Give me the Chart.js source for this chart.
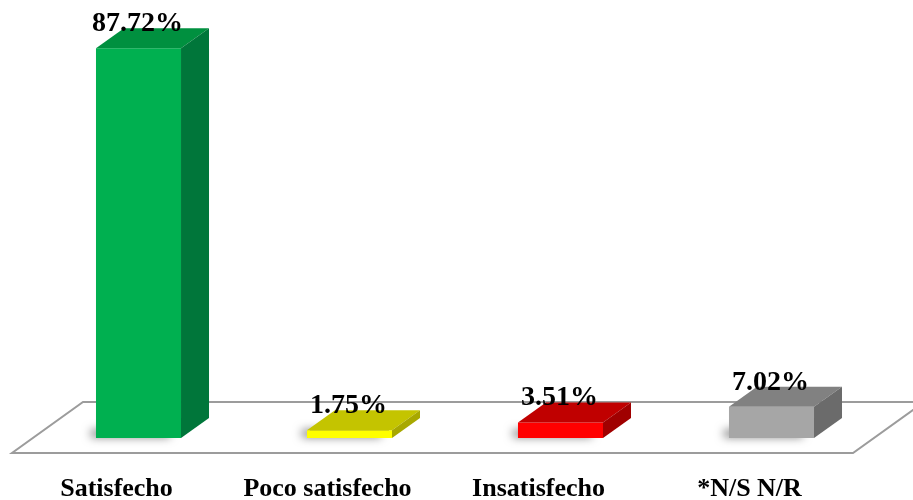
<!DOCTYPE html>
<html>
<head>
<meta charset="utf-8">
<script src="https://cdn.jsdelivr.net/npm/chart.js@4.4.0/dist/chart.umd.min.js"></script>
<style>
  html, body { margin: 0; padding: 0; background: #fff; }
  #wrap { width: 913px; height: 500px; }
</style>
</head>
<body>
<div id="wrap"><canvas id="chart" width="913" height="500"></canvas></div>
<script>
// datos de la encuesta
const categories = ['Satisfecho', 'Poco satisfecho', 'Insatisfecho', '*N/S N/R'];
const values = [87.72, 1.75, 3.51, 7.02];

const frontColors = ['#00B050', '#FFFF00', '#FF0000', '#A6A6A6'];
const topColors = ['#00903F', '#C4C400', '#C00000', '#818181'];
const sideColors = ['#00763A', '#A8A800', '#A00000', '#6B6B6B'];

// profundidad del efecto 3D
const DEPTH_X = 28;
const DEPTH_Y = -20;

const floorPlugin = {
    id: 'floor3d',
    beforeDatasetsDraw(chart) {
        const { ctx, chartArea } = chart;
        const base = chartArea.bottom;
        ctx.save();
        // piso
        ctx.beginPath();
        ctx.moveTo(chartArea.left - 21, base + 15);
        ctx.lineTo(chartArea.right - 24, base + 15);
        ctx.lineTo(chartArea.right + 47, base - 36);
        ctx.lineTo(chartArea.left + 50, base - 36);
        ctx.closePath();
        ctx.fillStyle = '#ffffff';
        ctx.fill();
        ctx.strokeStyle = '#9C9C9C';
        ctx.lineWidth = 2;
        ctx.stroke();

        // sombras suaves bajo las barras (quedan tapadas salvo el difuminado)
        const meta = chart.getDatasetMeta(0);
        meta.data.forEach(bar => {
            const half = bar.width / 2;
            ctx.save();
            ctx.shadowColor = 'rgba(0,0,0,0.55)';
            ctx.shadowBlur = 10;
            ctx.shadowOffsetX = -8;
            ctx.shadowOffsetY = 1;
            ctx.fillStyle = 'rgba(110,110,110,1)';
            ctx.fillRect(bar.x - half + 3, base - 9, bar.width - 6, 7);
            ctx.restore();
        });
        ctx.restore();
    },
    afterDatasetsDraw(chart) {
        const { ctx, chartArea } = chart;
        const base = chartArea.bottom;
        const meta = chart.getDatasetMeta(0);
        ctx.save();
        meta.data.forEach((bar, i) => {
            const x0 = bar.x - bar.width / 2;
            const x1 = bar.x + bar.width / 2;
            const top = bar.y;
            // cara superior
            ctx.beginPath();
            ctx.moveTo(x0, top);
            ctx.lineTo(x0 + DEPTH_X, top + DEPTH_Y);
            ctx.lineTo(x1 + DEPTH_X, top + DEPTH_Y);
            ctx.lineTo(x1, top);
            ctx.closePath();
            ctx.fillStyle = topColors[i];
            ctx.fill();
            // cara lateral
            ctx.beginPath();
            ctx.moveTo(x1, top);
            ctx.lineTo(x1 + DEPTH_X, top + DEPTH_Y);
            ctx.lineTo(x1 + DEPTH_X, base + DEPTH_Y);
            ctx.lineTo(x1, base);
            ctx.closePath();
            ctx.fillStyle = sideColors[i];
            ctx.fill();
        });
        // etiquetas de valor
        ctx.fillStyle = '#000';
        ctx.font = 'bold 28px "Liberation Serif", "Times New Roman", serif';
        ctx.textAlign = 'center';
        ctx.textBaseline = 'alphabetic';
        meta.data.forEach((bar, i) => {
            const txt = values[i].toFixed(2) + '%';
            ctx.fillText(txt, bar.x - 1, bar.y - 17);
        });
        ctx.restore();
    }
};

new Chart(document.getElementById('chart'), {
    type: 'bar',
    data: {
        labels: categories,
        datasets: [{
            data: values,
            backgroundColor: frontColors,
            borderWidth: 0,
            barPercentage: 0.403,
            categoryPercentage: 1
        }]
    },
    options: {
        responsive: false,
        animation: false,
        layout: { padding: { left: 33, right: 36, top: 38, bottom: 0 } },
        plugins: {
            legend: { display: false },
            tooltip: { enabled: false }
        },
        scales: {
            x: {
                grid: { display: false, drawTicks: false },
                border: { display: false },
                afterFit: (scale) => { scale.height = 62; },
                ticks: {
                    color: '#000',
                    padding: 36,
                    labelOffset: -22,
                    maxRotation: 0,
                    font: { family: '"Liberation Serif", "Times New Roman", serif', size: 26, weight: 'bold' }
                }
            },
            y: {
                display: false,
                min: 0,
                max: 90
            }
        }
    },
    plugins: [floorPlugin]
});
</script>
</body>
</html>
